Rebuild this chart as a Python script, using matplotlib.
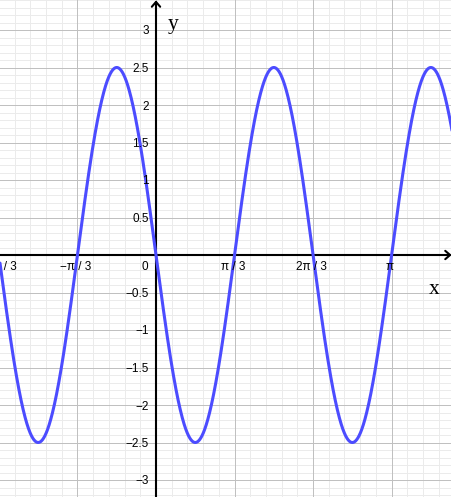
import numpy as np
import matplotlib
matplotlib.use("Agg")
import matplotlib.pyplot as plt

# ---- data ----
amplitude = -2.5          # y = amplitude * sin(freq * x)
freq = 3.0
x_tick_values = [-2*np.pi/3, -np.pi/3, 0.0, np.pi/3, 2*np.pi/3, np.pi]
x_tick_labels = ["−2π / 3", "−π / 3", "0", "π / 3", "2π / 3", "π"]
y_tick_values = [-3, -2.5, -2, -1.5, -1, -0.5, 0.5, 1, 1.5, 2, 2.5, 3]
y_tick_labels = ["−3", "−2.5", "−2", "−1.5", "−1", "−0.5", "0.5", "1", "1.5", "2", "2.5", "3"]

# ---- layout ----
W, H = 452, 497
ppu = 75.0           # pixels per unit
ox, oy = 156.0, 255.0  # origin pixel
xmin, xmax = -ox / ppu, (W - ox) / ppu
ymax, ymin = oy / ppu, -(H - oy) / ppu

fig = plt.figure(figsize=(W / 100, H / 100), dpi=100)
ax = fig.add_axes([0, 0, 1, 1])
ax.set_xlim(xmin, xmax)
ax.set_ylim(ymin, ymax)
ax.axis("off")

# grid
step_x = np.pi / 3
minor_x = step_x / 5
for k in range(int(np.floor(xmin / minor_x)) - 1, int(np.ceil(xmax / minor_x)) + 2):
    xv = k * minor_x
    major = (k % 5 == 0)
    ax.axvline(xv, color="#c0c0c0" if major else "#ebebeb",
               lw=0.72, zorder=1 if major else 0)
for k in range(int(np.floor(ymin / 0.1)) - 1, int(np.ceil(ymax / 0.1)) + 2):
    yv = k * 0.1
    major = (k % 5 == 0)
    ax.axhline(yv, color="#c0c0c0" if major else "#ebebeb",
               lw=0.72, zorder=1 if major else 0)

# axes with arrows
ax.annotate("", xy=(xmax - 0.3 / ppu, 0), xytext=(xmin, 0),
            arrowprops=dict(arrowstyle="->,head_length=0.35,head_width=0.3",
                            lw=1.5, color="black", shrinkA=0, shrinkB=0),
            zorder=3)
ax.annotate("", xy=(0, ymax - 0.3 / ppu), xytext=(0, ymin),
            arrowprops=dict(arrowstyle="->,head_length=0.35,head_width=0.3",
                            lw=1.5, color="black", shrinkA=0, shrinkB=0),
            zorder=3)

# curve
xs = np.linspace(xmin, xmax, 2000)
ax.plot(xs, amplitude * np.sin(freq * xs), color="#4c4cff", lw=2.2, zorder=4,
        solid_capstyle="round")

tick_font = dict(family=["Liberation Sans", "DejaVu Sans"], size=8.5, color="black")

# x tick labels
for xv, lab in zip(x_tick_values, x_tick_labels):
    if lab == "0":
        ax.text(-7.5 / ppu, -15 / ppu, lab, ha="right", va="baseline", zorder=5, **tick_font)
    else:
        ax.text(xv - 1.5 / ppu, -15 / ppu, lab, ha="center", va="baseline", zorder=5, **tick_font)

# y tick labels
for yv, lab in zip(y_tick_values, y_tick_labels):
    ax.text(-7 / ppu, yv - 4.5 / ppu, lab, ha="right", va="baseline", zorder=5, **tick_font)

# axis names
ax.text(17 / ppu, (oy - 29.5) / ppu, "y", ha="center", va="baseline",
        family=["Liberation Serif", "DejaVu Serif"], size=15.5, zorder=5)
ax.text((434.5 - ox) / ppu, (oy - 294) / ppu, "x", ha="center", va="baseline",
        family=["Liberation Serif", "DejaVu Serif"], size=15.5, zorder=5)

fig.savefig("out.png", dpi=100)
